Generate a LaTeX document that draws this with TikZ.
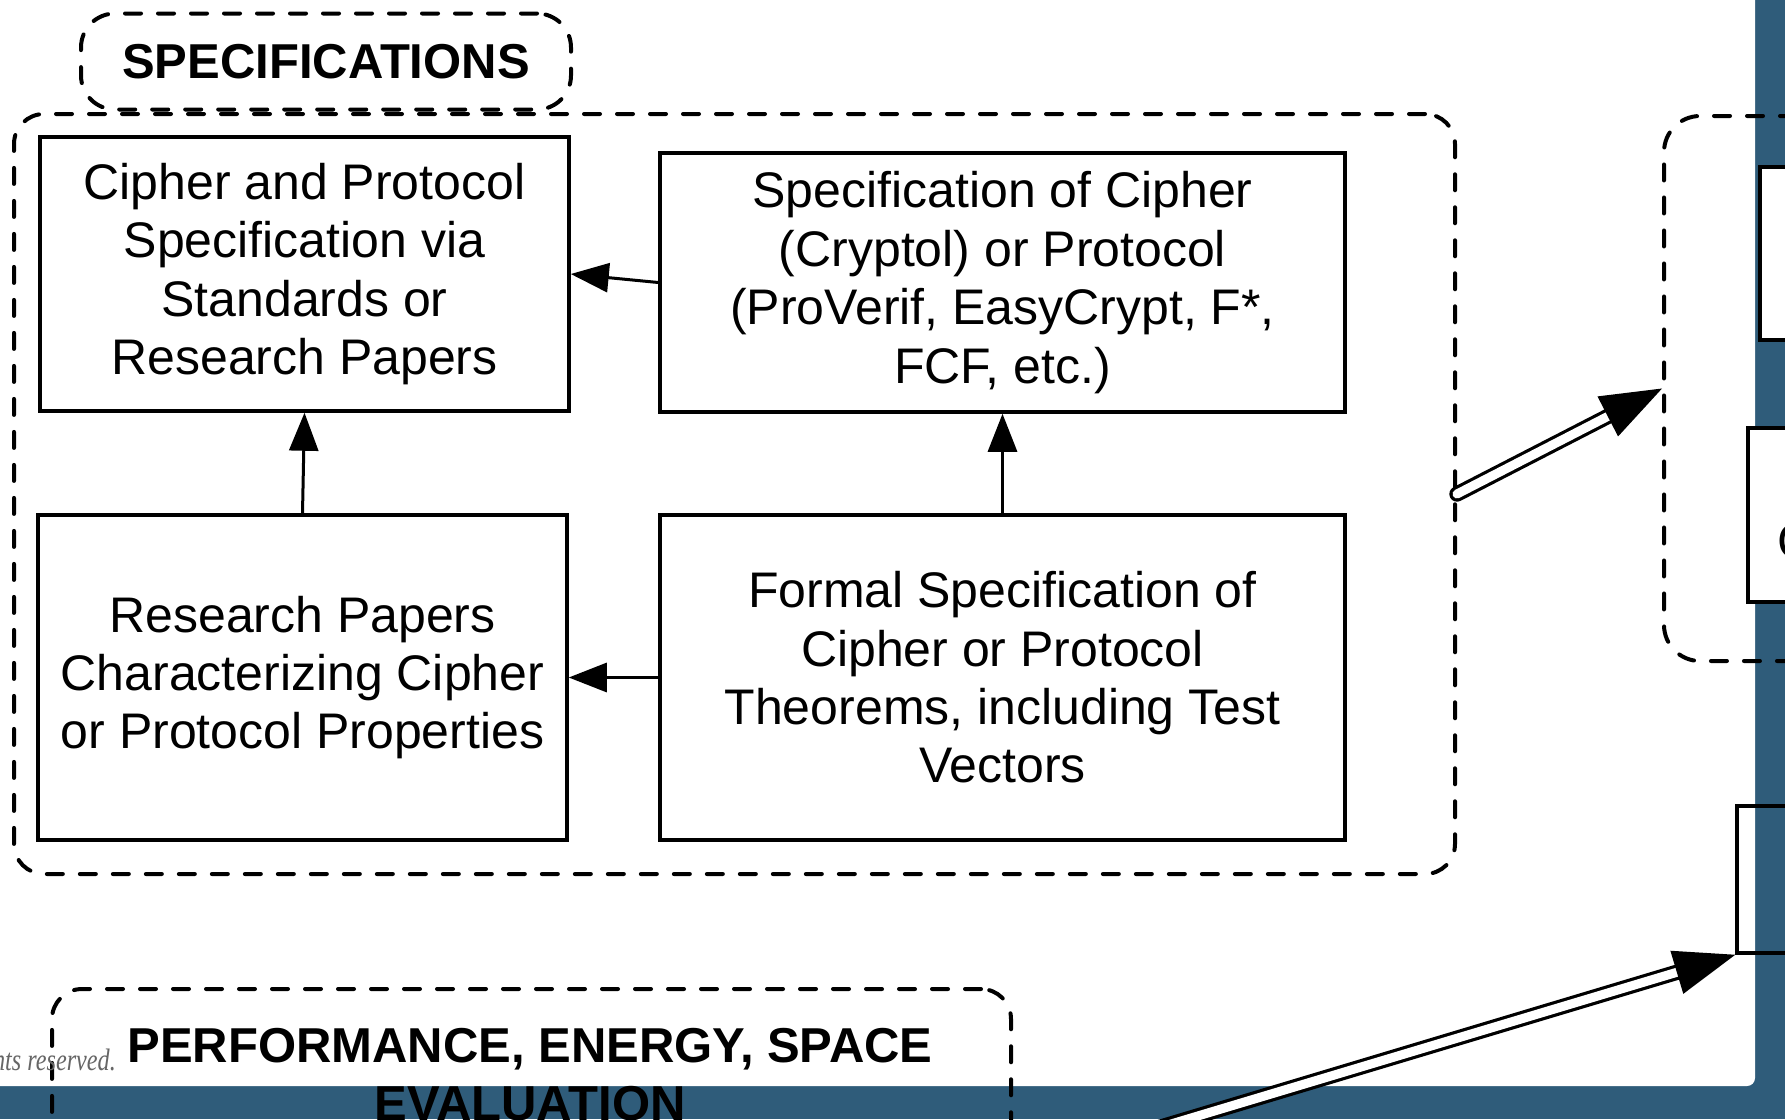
\documentclass[tikz,border=0pt]{standalone}
\usepackage{fontspec}
\setmainfont{Liberation Sans}
\newfontfamily\notefont{Liberation Serif}
\usetikzlibrary{arrows.meta,calc}
\definecolor{pageblue}{RGB}{47,92,122}
\begin{document}
\begin{tikzpicture}[x=1pt,y=-1pt,
  box/.style={draw, line width=3.5pt, fill=white, align=center, inner sep=0pt,
    font=\fontsize{50}{58.4}\selectfont},
  grp/.style={draw, line width=4pt, dash pattern=on 16pt off 17pt, line cap=round,
    rounded corners=30pt, inner sep=0pt},
  title/.style={font=\fontsize{49}{58.4}\selectfont\bfseries, inner sep=0pt},
  link/.style={line width=3pt, -{Triangle[length=38pt,width=29pt]}},
  shaft/.style={line width=3.2pt, double=white, double distance=9pt, line cap=round}
]
\useasboundingbox (0,0) rectangle (1785,1119);
\clip (0,0) rectangle (1785,1119);

% page background and white sheet
\fill[pageblue] (0,0) rectangle (1785,1119);
\fill[white, rounded corners=8pt] (-30,-30) rectangle (1755,1086);

% specification boxes
\node[box, minimum width=529pt, minimum height=274pt] (std) at (304.5,274)
  {Cipher and Protocol\\Specification via\\Standards or\\Research Papers};
\node[box, minimum width=685pt, minimum height=259pt] (formal) at (1002.5,282.5)
  {Specification of Cipher\\(Cryptol) or Protocol\\(ProVerif, EasyCrypt, F*,\\FCF, etc.)};
\node[box, minimum width=529pt, minimum height=325pt] (props) at (302.5,677.5)
  {Research Papers\\Characterizing Cipher\\or Protocol Properties};
\node[box, minimum width=685pt, minimum height=325pt] (thm) at (1002.5,677.5)
  {Formal Specification of\\Cipher or Protocol\\Theorems, including Test\\Vectors};

% dashed groups
\node[grp, minimum width=1441pt, minimum height=760pt] (spec) at (734.5,494) {};
\node[grp, title, minimum width=490pt, minimum height=96pt, rounded corners=34pt]
  (spectitle) at (326,61.5) {SPECIFICATIONS};
\node[grp, minimum width=300pt, minimum height=545pt, rounded corners=36pt]
  (impl) at (1814,388.5) {};
\node[grp, minimum width=959pt, minimum height=300pt] (perf) at (531.5,1139) {};
\node[title, anchor=base] (perfl1) at (530,1062) {PERFORMANCE, ENERGY, SPACE};
\node[title, anchor=base] (perfl2) at (530,1120) {EVALUATION};

% boxes on the right
\node[box, minimum width=300pt, minimum height=173pt] (r1) at (1910,253.5) {};
\node[box, minimum width=300pt, minimum height=174pt] (r2) at (1898,515) {};
\node[font=\fontsize{50}{58.4}\selectfont, inner sep=0pt, anchor=base west]
  (r2text) at (1777,558) {C};
\node[box, fill=none, minimum width=300pt, minimum height=147pt] (r3) at (1887,879.5) {};

% copyright line
\node[font=\notefont\itshape\fontsize{31}{36}\selectfont, text=black!60,
  anchor=base east, inner sep=0pt] (rights) at (116,1070)
  {\scalebox{0.78}[1]{All rights reserved.}};

% arrows inside the specification group
\draw[link] (formal.west) -- (std.east);
\draw[link] (props.north) -- (std.south);
\draw[link] (thm.north) -- (formal.south);
\draw[link] (thm.west) -- (props.east);

% hollow arrow from the specification group to the right group
\coordinate (hb1) at ($(impl.west)!61pt!(spec.east)$);
\draw[shaft] (spec.east) -- ($(impl.west)!52pt!(spec.east)$);
\fill (impl.west) -- ($(hb1)!22.5pt!90:(impl.west)$)
  -- ($(hb1)!22.5pt!-90:(impl.west)$) -- cycle;

% hollow arrow rising from below to the lower right box
\coordinate (tail2) at (1021,1169);
\coordinate (hb2) at ($(r3.south west)!61pt!(tail2)$);
\draw[shaft] (tail2) -- ($(r3.south west)!52pt!(tail2)$);
\fill (r3.south west) -- ($(hb2)!22.5pt!90:(r3.south west)$)
  -- ($(hb2)!22.5pt!-90:(r3.south west)$) -- cycle;
\end{tikzpicture}
\end{document}
